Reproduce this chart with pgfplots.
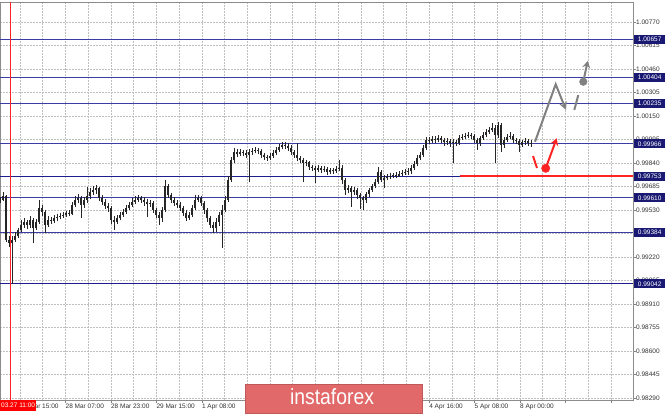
\documentclass[border=0pt]{standalone}
\usepackage{pgfplots}
\pgfplotsset{compat=1.18}
\usepackage{pgfplotstable}
\usepackage{graphicx}
\usepackage{fontspec}
\setmainfont{Liberation Sans}
\usetikzlibrary{arrows.meta}
\definecolor{lvl}{RGB}{60,60,165}
\definecolor{lvldark}{RGB}{30,30,140}
\definecolor{boxnavy}{RGB}{25,25,115}
\definecolor{logored}{RGB}{225,105,105}
\definecolor{redline}{RGB}{255,35,35}
\definecolor{arrowgray}{RGB}{128,128,128}

\pgfplotstableread{
x o h l c
0 0.99583 0.99616 0.99576 0.99596
3 0.99596 0.99649 0.99589 0.99622
6 0.99622 0.99629 0.99319 0.99332
9 0.99332 0.99358 0.99286 0.99312
12 0.99312 0.99358 0.99042 0.99332
15 0.99332 0.99385 0.99319 0.99358
18 0.99358 0.99411 0.99345 0.99398
21 0.99398 0.99464 0.99385 0.99431
24 0.99431 0.99477 0.99411 0.99451
27 0.99451 0.99464 0.99404 0.99431
30 0.99431 0.99490 0.99411 0.99464
33 0.99464 0.99477 0.99312 0.99411
36 0.99411 0.99470 0.99398 0.99451
39 0.99451 0.99596 0.99437 0.99543
42 0.99543 0.99563 0.99490 0.99517
45 0.99517 0.99530 0.99378 0.99431
48 0.99431 0.99490 0.99418 0.99464
51 0.99464 0.99484 0.99437 0.99457
54 0.99457 0.99497 0.99444 0.99477
57 0.99477 0.99503 0.99457 0.99484
60 0.99484 0.99510 0.99470 0.99490
63 0.99490 0.99517 0.99477 0.99497
66 0.99497 0.99523 0.99484 0.99510
69 0.99510 0.99530 0.99490 0.99503
72 0.99503 0.99583 0.99497 0.99563
75 0.99563 0.99622 0.99550 0.99596
78 0.99596 0.99635 0.99576 0.99609
81 0.99609 0.99622 0.99477 0.99563
84 0.99563 0.99616 0.99543 0.99596
87 0.99596 0.99682 0.99576 0.99622
90 0.99622 0.99675 0.99602 0.99649
93 0.99649 0.99688 0.99629 0.99662
96 0.99662 0.99695 0.99635 0.99675
99 0.99675 0.99682 0.99589 0.99609
102 0.99609 0.99629 0.99563 0.99583
105 0.99583 0.99602 0.99536 0.99556
108 0.99556 0.99576 0.99517 0.99543
111 0.99543 0.99556 0.99437 0.99464
114 0.99464 0.99490 0.99398 0.99451
117 0.99451 0.99497 0.99437 0.99477
120 0.99477 0.99517 0.99464 0.99497
123 0.99497 0.99536 0.99484 0.99517
126 0.99517 0.99563 0.99503 0.99543
129 0.99543 0.99583 0.99530 0.99563
132 0.99563 0.99609 0.99550 0.99583
135 0.99583 0.99622 0.99569 0.99596
138 0.99596 0.99629 0.99583 0.99609
141 0.99609 0.99622 0.99576 0.99596
144 0.99596 0.99616 0.99556 0.99583
147 0.99583 0.99602 0.99484 0.99569
150 0.99569 0.99596 0.99550 0.99576
153 0.99576 0.99589 0.99510 0.99530
156 0.99530 0.99543 0.99477 0.99497
159 0.99497 0.99517 0.99431 0.99477
162 0.99477 0.99550 0.99451 0.99530
165 0.99530 0.99728 0.99517 0.99688
168 0.99688 0.99701 0.99609 0.99629
171 0.99629 0.99642 0.99576 0.99596
174 0.99596 0.99616 0.99556 0.99576
177 0.99576 0.99596 0.99543 0.99563
180 0.99563 0.99583 0.99523 0.99543
183 0.99543 0.99556 0.99490 0.99510
186 0.99510 0.99530 0.99457 0.99477
189 0.99477 0.99517 0.99464 0.99497
192 0.99497 0.99563 0.99484 0.99543
195 0.99543 0.99629 0.99530 0.99596
198 0.99596 0.99629 0.99583 0.99609
201 0.99609 0.99622 0.99556 0.99576
204 0.99576 0.99589 0.99503 0.99530
207 0.99530 0.99543 0.99451 0.99477
210 0.99477 0.99490 0.99411 0.99431
213 0.99431 0.99451 0.99378 0.99411
216 0.99411 0.99477 0.99385 0.99451
219 0.99451 0.99517 0.99424 0.99497
222 0.99497 0.99563 0.99279 0.99530
225 0.99530 0.99622 0.99517 0.99596
228 0.99596 0.99754 0.99583 0.99728
231 0.99728 0.99880 0.99715 0.99860
234 0.99860 0.99939 0.99840 0.99913
237 0.99913 0.99932 0.99880 0.99899
240 0.99899 0.99932 0.99886 0.99913
243 0.99913 0.99926 0.99886 0.99906
246 0.99906 0.99926 0.99873 0.99893
249 0.99893 0.99932 0.99715 0.99913
252 0.99913 0.99939 0.99893 0.99919
255 0.99919 0.99946 0.99906 0.99926
258 0.99926 0.99939 0.99899 0.99919
261 0.99919 0.99932 0.99873 0.99893
264 0.99893 0.99906 0.99860 0.99880
267 0.99880 0.99893 0.99853 0.99873
270 0.99873 0.99906 0.99860 0.99886
273 0.99886 0.99926 0.99873 0.99906
276 0.99906 0.99946 0.99893 0.99926
279 0.99926 0.99965 0.99913 0.99946
282 0.99946 0.99978 0.99932 0.99959
285 0.99959 0.99978 0.99932 0.99952
288 0.99952 0.99972 0.99919 0.99939
291 0.99939 0.99959 0.99893 0.99913
294 0.99913 0.99926 0.99873 0.99893
297 0.99893 0.99972 0.99853 0.99873
300 0.99873 0.99886 0.99840 0.99860
303 0.99860 0.99873 0.99715 0.99840
306 0.99840 0.99860 0.99820 0.99847
309 0.99847 0.99853 0.99794 0.99814
312 0.99814 0.99827 0.99787 0.99807
315 0.99807 0.99820 0.99708 0.99794
318 0.99794 0.99827 0.99781 0.99807
321 0.99807 0.99820 0.99774 0.99794
324 0.99794 0.99820 0.99781 0.99800
327 0.99800 0.99814 0.99761 0.99781
330 0.99781 0.99807 0.99767 0.99794
333 0.99794 0.99807 0.99767 0.99787
336 0.99787 0.99820 0.99774 0.99800
339 0.99800 0.99860 0.99787 0.99807
342 0.99807 0.99827 0.99701 0.99728
345 0.99728 0.99741 0.99629 0.99662
348 0.99662 0.99695 0.99642 0.99675
351 0.99675 0.99688 0.99550 0.99649
354 0.99649 0.99682 0.99629 0.99662
357 0.99662 0.99675 0.99602 0.99629
360 0.99629 0.99642 0.99536 0.99609
363 0.99609 0.99622 0.99530 0.99596
366 0.99596 0.99649 0.99576 0.99635
369 0.99635 0.99675 0.99616 0.99662
372 0.99662 0.99701 0.99649 0.99688
375 0.99688 0.99734 0.99675 0.99715
378 0.99715 0.99814 0.99701 0.99781
381 0.99781 0.99794 0.99715 0.99728
384 0.99728 0.99761 0.99675 0.99741
387 0.99741 0.99767 0.99728 0.99748
390 0.99748 0.99774 0.99734 0.99754
393 0.99754 0.99774 0.99741 0.99761
396 0.99761 0.99781 0.99741 0.99754
399 0.99754 0.99787 0.99748 0.99767
402 0.99767 0.99794 0.99754 0.99774
405 0.99774 0.99800 0.99761 0.99781
408 0.99781 0.99807 0.99761 0.99787
411 0.99787 0.99827 0.99767 0.99807
414 0.99807 0.99853 0.99794 0.99833
417 0.99833 0.99893 0.99820 0.99873
420 0.99873 0.99913 0.99860 0.99893
423 0.99893 0.99959 0.99880 0.99939
426 0.99939 1.00011 0.99926 0.99992
429 0.99992 1.00011 0.99965 0.99985
432 0.99985 1.00018 0.99972 0.99998
435 0.99998 1.00018 0.99972 0.99992
438 0.99992 1.00025 0.99978 1.00005
441 1.00005 1.00018 0.99972 0.99992
444 0.99992 1.00005 0.99952 0.99978
447 0.99978 1.00005 0.99959 0.99985
450 0.99985 0.99998 0.99946 0.99972
453 0.99972 0.99998 0.99840 0.99978
456 0.99978 0.99992 0.99952 0.99972
459 0.99972 1.00025 0.99959 1.00005
462 1.00005 1.00031 0.99992 1.00011
465 1.00011 1.00038 0.99998 1.00018
468 1.00018 1.00044 1.00005 1.00025
471 1.00025 1.00038 0.99998 1.00018
474 1.00018 1.00031 0.99972 0.99992
477 0.99992 1.00005 0.99926 0.99972
480 0.99972 1.00018 0.99952 1.00005
483 1.00005 1.00044 0.99992 1.00025
486 1.00025 1.00064 1.00011 1.00044
489 1.00044 1.00077 1.00031 1.00058
492 1.00058 1.00104 1.00044 1.00071
495 1.00071 1.00091 0.99840 1.00025
498 1.00025 1.00110 1.00005 1.00091
501 1.00091 1.00104 0.99913 0.99959
504 0.99959 1.00011 0.99939 0.99992
507 0.99992 1.00031 0.99978 1.00011
510 1.00011 1.00044 0.99998 1.00018
513 1.00018 1.00031 0.99972 0.99992
516 0.99992 1.00005 0.99965 0.99985
519 0.99985 0.99998 0.99913 0.99959
522 0.99959 0.99992 0.99946 0.99978
525 0.99978 1.00005 0.99959 0.99985
528 0.99985 0.99998 0.99952 0.99972
531 0.99972 0.99992 0.99946 0.99965
}\bars

\begin{document}
\begin{tikzpicture}
\useasboundingbox (0,0) rectangle (665pt,415pt);
\fill[white] (0,0) rectangle (665pt,415pt);
\begin{axis}[
  at={(0pt,15pt)}, anchor=south west,
  scale only axis, width=633pt, height=398pt,
  xmin=0, xmax=633, ymin=0.982768, ymax=1.009019,
  axis line style={draw=black!45},
  xtick={20,65.45,110.9,156.35,201.8,247.25,292.7,338.15,383.6,429.05,474.5,519.95,565.4,610.85},
  xticklabels={27 Mar 15:00,28 Mar 07:00,28 Mar 23:00,29 Mar 15:00,1 Apr 08:00,{},{},{},{},4 Apr 16:00,5 Apr 08:00,8 Apr 00:00,{},{}},
  minor x tick num=1,
  ytick={0.98290,0.98445,0.98600,0.98755,0.98910,0.99065,0.99220,0.99375,0.99530,0.99685,0.99840,0.99995,1.00150,1.00305,1.00460,1.00615,1.00770},
  yticklabels={0.98290,0.98445,0.98600,0.98755,0.98910,0.99065,0.99220,0.99375,0.99530,0.99685,0.99840,0.99995,1.00150,1.00305,1.00460,1.00615,1.00770},
  scaled y ticks=false,
  xtick pos=bottom, ytick pos=right, yticklabel pos=right,
  tick align=outside, major tick length=3pt, minor tick length=0pt,
  tick style={black!50},
  grid=both,
  major grid style={black!25, dash pattern=on 1.5pt off 1.5pt, line width=0.5pt},
  minor grid style={black!25, dash pattern=on 1.5pt off 1.5pt, line width=0.5pt},
  ticklabel style={font=\fontsize{6.5}{7}\selectfont, text=black!80},
  xticklabel style={anchor=north west, inner sep=0pt, yshift=-1pt, xshift=0pt},
  yticklabel style={anchor=west, inner sep=0pt, xshift=0pt},
]
% levels
\addplot[lvl, line width=1pt] coordinates {(0,1.00657) (633,1.00657)};
\addplot[lvl, line width=1pt] coordinates {(0,1.00404) (633,1.00404)};
\addplot[lvl, line width=1pt] coordinates {(0,1.00235) (633,1.00235)};
\addplot[lvl, line width=1pt] coordinates {(0,0.99966) (633,0.99966)};
\addplot[lvldark, line width=0.8pt] coordinates {(0,0.99753) (460,0.99753)};
\addplot[lvl, line width=1pt] coordinates {(0,0.99610) (633,0.99610)};
\addplot[lvl, line width=1pt] coordinates {(0,0.99384) (633,0.99384)};
\addplot[lvldark, line width=1pt] coordinates {(0,0.99042) (633,0.99042)};
\addplot[redline, line width=2pt] coordinates {(460,0.99753) (633,0.99753)};
% cursor line
\addplot[redline, line width=0.7pt] coordinates {(10,0.982768) (10,1.009019)};
% wicks
\addplot[draw=none, error bars/.cd, y dir=plus, y explicit, error mark=none,
  error bar style={draw=black!85, line width=0.7pt}]
  table[x=x, y=l, y error expr=\thisrow{h}-\thisrow{l}] {\bars};
% bodies
\addplot[draw=none, error bars/.cd, y dir=plus, y explicit, error mark=none,
  error bar style={draw=black!85, line width=2.4pt}]
  table[x=x, y expr={min(\thisrow{o},\thisrow{c})}, y error expr={abs(\thisrow{c}-\thisrow{o})}] {\bars};
% forecast annotations
\addplot[arrowgray, line width=2pt, -{Stealth[length=8pt,width=8pt]}] coordinates {(535,0.99980) (555.7,1.00359) (566,1.00190)};
\addplot[arrowgray, line width=2pt] coordinates {(574.3,1.00190) (578.3,1.00288)};
\addplot[arrowgray, line width=2pt, -{Stealth[length=7pt,width=8pt]}] coordinates {(583.3,1.00376) (587.7,1.00513)};
\addplot[only marks, mark=*, mark size=3.8pt, arrowgray] coordinates {(583.3,1.00376)};
\addplot[redline, line width=2pt] coordinates {(533,0.99886) (537,0.99807)};
\addplot[redline, line width=2pt, -{Stealth[length=7pt,width=8pt]}] coordinates {(545.7,0.99805) (556.7,1.00003)};
\addplot[only marks, mark=*, mark size=4.2pt, redline] coordinates {(545.7,0.99805)};
\coordinate (b1) at (axis cs:633,1.00657);
\coordinate (b2) at (axis cs:633,1.00404);
\coordinate (b3) at (axis cs:633,1.00235);
\coordinate (b4) at (axis cs:633,0.99966);
\coordinate (b5) at (axis cs:633,0.99753);
\coordinate (b6) at (axis cs:633,0.99610);
\coordinate (b7) at (axis cs:633,0.99384);
\coordinate (b8) at (axis cs:633,0.99042);
\end{axis}
\tikzset{lbl/.style={fill=boxnavy, text=white, anchor=west, minimum width=31pt, minimum height=9pt, inner xsep=1pt, inner ysep=0pt, font=\fontsize{6.5}{7}\selectfont}}
\node[lbl] at ([xshift=1pt]b1) {1.00657};
\node[lbl] at ([xshift=1pt]b2) {1.00404};
\node[lbl] at ([xshift=1pt]b3) {1.00235};
\node[lbl] at ([xshift=1pt]b4) {0.99966};
\node[lbl] at ([xshift=1pt]b5) {0.99753};
\node[lbl] at ([xshift=1pt]b6) {0.99610};
\node[lbl] at ([xshift=1pt]b7) {0.99384};
\node[lbl] at ([xshift=1pt]b8) {0.99042};
% cursor time label
\node[fill=red, text=white, anchor=north west, inner xsep=1pt, inner ysep=0pt, minimum height=11pt, font=\fontsize{6.5}{7}\selectfont] at (0pt,15pt) {03.27 11:00};
% logo
\node[fill=logored, draw=logored!85!black, line width=0.6pt, minimum width=177pt, minimum height=29pt, inner sep=0pt] at (333.5pt,16.5pt) {};
\node[text=white, font=\fontsize{22}{22}\selectfont, inner sep=0pt, anchor=base] at (332pt,10pt) {\scalebox{0.88}[1]{instaforex}};
\end{tikzpicture}
\end{document}
